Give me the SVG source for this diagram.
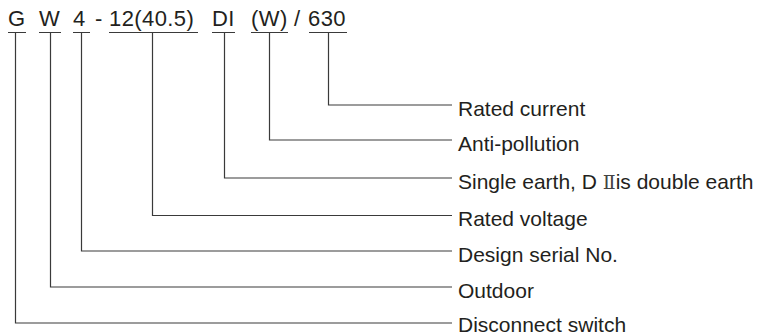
<svg xmlns="http://www.w3.org/2000/svg" width="759" height="335" viewBox="0 0 759 335">
<style>
text{font-family:"Liberation Sans",Arial,sans-serif;fill:#231f20}
.code{font-size:22px;letter-spacing:0.4px}
.lbl{font-size:21px}
.ln{stroke:#3a3a3a;stroke-width:1.2;fill:none}
</style>
<rect width="759" height="335" fill="#fff"/>
<g id="code">
<text class="code" x="8" y="25.5">G</text>
<text class="code" x="39" y="25.5">W</text>
<text class="code" x="73" y="25.5">4</text>
<text class="code" x="95" y="25.5">-</text>
<text class="code" x="109" y="25.5">12(40.5)</text>
<text class="code" x="212" y="25.5">DI</text>
<text class="code" x="251" y="25.5">(W)</text>
<text class="code" x="294" y="25.5">/</text>
<text class="code" x="308" y="25.5">630</text>
</g>
<g id="connectors" class="ln">
<path d="M8 32.5H26M15.5 32.5V323H452"/>
<path d="M39 32.5H61M50.5 32.5V287H452"/>
<path d="M73 32.5H90M81.5 32.5V251H452"/>
<path d="M109 32.5H198M152.5 32.5V215.5H452"/>
<path d="M212 32.5H235M224.5 32.5V178H452"/>
<path d="M251 32.5H288M269.5 32.5V140H452"/>
<path d="M309 32.5H347M328.5 32.5V105H452"/>
</g>
<g id="n-current"><text class="lbl" x="458" y="115.5">Rated current</text></g>
<g id="n-pollution"><text class="lbl" x="458" y="150.5">Anti-pollution</text></g>
<g id="n-earth"><text class="lbl" x="458" y="188.5">Single earth, D <tspan font-family="'DejaVu Serif',serif" font-size="19" fill="#444">Ⅱ</tspan>is double earth</text></g>
<g id="n-voltage"><text class="lbl" x="458" y="226">Rated voltage</text></g>
<g id="n-serial"><text class="lbl" x="458" y="261.5">Design serial No.</text></g>
<g id="n-outdoor"><text class="lbl" x="458" y="297.5">Outdoor</text></g>
<g id="n-switch"><text class="lbl" x="458" y="332">Disconnect switch</text></g>
</svg>
